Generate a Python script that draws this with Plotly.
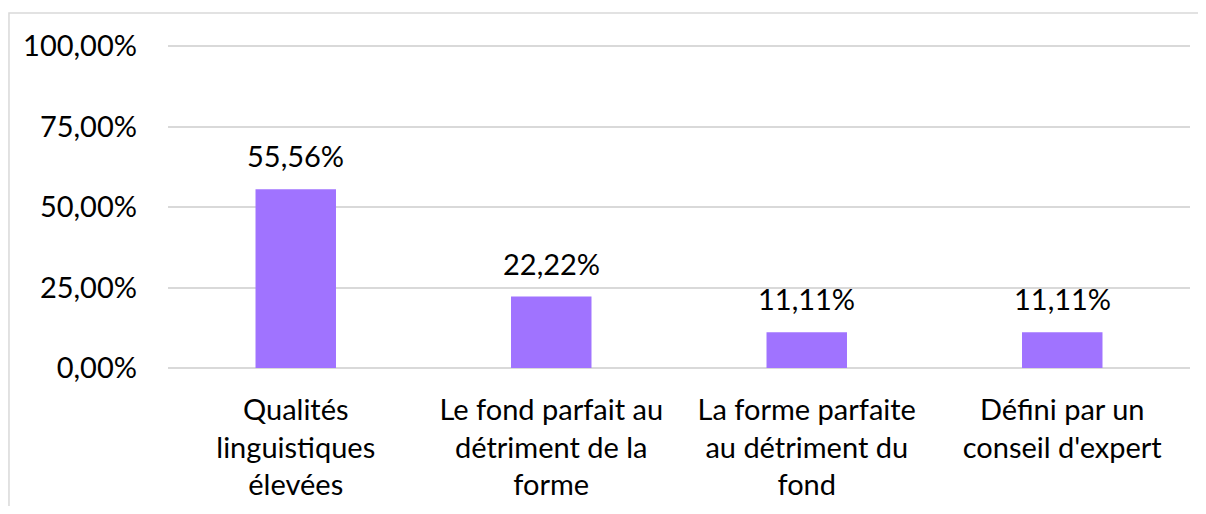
import plotly.graph_objects as go

categories = [
    "Qualités<br>linguistiques<br>élevées",
    "Le fond parfait au<br>détriment de la<br>forme",
    "La forme parfaite<br>au détriment du<br>fond",
    "Défini par un<br>conseil d'expert",
]
shares = [0.5556, 0.2222, 0.1111, 0.1111]
tick_values = [0, 0.25, 0.5, 0.75, 1.0]
tick_labels = ["0,00%", "25,00%", "50,00%", "75,00%", "100,00%"]

BAR_COLOR = "#A073FF"
GRID_COLOR = "#D9D9D9"
FONT = "Lato, Carlito, Calibri, sans-serif"


def pct_fr(v):
    return f"{v * 100:.2f}".replace(".", ",") + "%"


fig = go.Figure(
    go.Bar(
        x=categories,
        y=shares,
        marker=dict(color=BAR_COLOR, line=dict(width=0)),
        hoverinfo="skip",
    )
)

for cat, v in zip(categories, shares):
    fig.add_annotation(
        x=cat,
        y=v,
        xref="x",
        yref="y",
        text=pct_fr(v),
        showarrow=False,
        yanchor="bottom",
        yshift=14,
        font=dict(family=FONT, size=29, color="#000000"),
    )

# outer chart frame, partly cropped in the source picture
fig.add_shape(
    type="rect",
    xref="paper",
    yref="paper",
    x0=-0.1556,
    x1=1.05,
    y0=-0.6,
    y1=1.092,
    line=dict(color=GRID_COLOR, width=1.5),
    fillcolor="rgba(0,0,0,0)",
    layer="below",
)

# the page body adds 8px around the figure, so the figure is sized to fit
fig.update_layout(
    width=1190,
    height=498,
    margin=dict(l=160, r=8, t=35, b=138, autoexpand=False),
    paper_bgcolor="white",
    plot_bgcolor="white",
    bargap=0.685,
    showlegend=False,
    font=dict(family=FONT, size=29, color="#000000"),
)
fig.update_xaxes(
    automargin=False,
    showgrid=False,
    showline=False,
    zeroline=False,
    ticks="",
    tickfont=dict(family=FONT, size=29, color="#000000"),
    ticklabelstandoff=22,
)
fig.update_yaxes(
    automargin=False,
    range=[0, 1.01],
    tickvals=tick_values,
    ticktext=tick_labels,
    showgrid=True,
    gridcolor=GRID_COLOR,
    gridwidth=1.5,
    zeroline=True,
    zerolinecolor=GRID_COLOR,
    zerolinewidth=1.5,
    showline=False,
    ticks="",
    tickfont=dict(family=FONT, size=29, color="#000000"),
    ticklabelstandoff=30,
)

fig.write_html("out.html")
